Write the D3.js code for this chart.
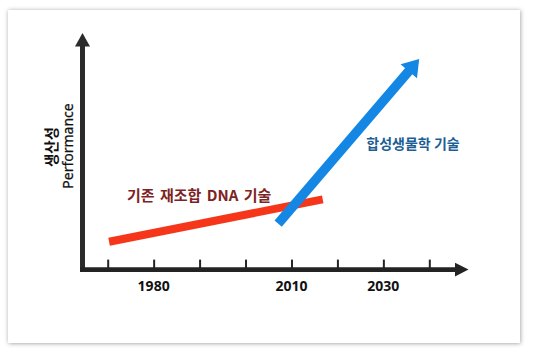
<!DOCTYPE html>
<html>
<head>
<meta charset="utf-8">
<script src="https://cdn.jsdelivr.net/npm/d3@7"></script>
<style>
  html, body { margin: 0; padding: 0; background: #ffffff; }
  svg { display: block; }
</style>
</head>
<body>
<svg id="chart" width="535" height="354"></svg>
<script>
// ---- data ----
const tickYears = [1970, 1980, 1990, 2000, 2010, 2020, 2030, 2040];
const tickLabels = ["", "1980", "", "", "2010", "", "2030", ""];
const recombinantYears = [1970.3, 2016.8];
const recombinantPerf = [11.9, 29.8];
const syntheticYears = [2007.1, 2037.8];
const syntheticPerf = [19.6, 89.0];
const seriesLabels = ["기존 재조합 DNA 기술", "합성생물학 기술"];
const yTitle = ["생산성", "Performance"];

// ---- setup ----
const svg = d3.select("#chart");
const defs = svg.append("defs");
const f = defs.append("filter").attr("id", "shadow")
  .attr("x", "-5%").attr("y", "-5%").attr("width", "110%").attr("height", "110%");
f.append("feDropShadow").attr("dx", 0.5).attr("dy", 0.5)
  .attr("stdDeviation", 2.2).attr("flood-color", "#000").attr("flood-opacity", 0.38);

svg.append("rect").attr("x", 8).attr("y", 10).attr("width", 512).attr("height", 333)
  .attr("fill", "#fff").attr("filter", "url(#shadow)");

const x = d3.scaleLinear().domain([1970, 2040]).range([107.7, 429.3]);
const y = d3.scaleLinear().domain([0, 100]).range([270, 33]);

const axisColor = "#232323";
const xAxisY = 269.6;
const yAxisX = 82.5;

// y axis line + arrow
svg.append("line").attr("x1", yAxisX).attr("x2", yAxisX)
  .attr("y1", xAxisY + 2.2).attr("y2", 45)
  .attr("stroke", "#2b2b2b").attr("stroke-width", 5);
svg.append("path")
  .attr("d", `M${yAxisX},${y(100)} L${yAxisX - 7.5},46.5 L${yAxisX + 7.5},46.5 Z`)
  .attr("fill", "#2b2b2b");

// x axis line + arrow
svg.append("line").attr("x1", yAxisX - 2.5).attr("x2", 456)
  .attr("y1", xAxisY).attr("y2", xAxisY)
  .attr("stroke", axisColor).attr("stroke-width", 4.6);
svg.append("path")
  .attr("d", `M468.5,${xAxisY} L455,${xAxisY - 6.8} L455,${xAxisY + 6.8} Z`)
  .attr("fill", axisColor);

// ticks via d3 axis
const xAxis = d3.axisTop(x).tickValues(tickYears).tickSize(10).tickFormat("");
const gx = svg.append("g").attr("transform", `translate(0,${xAxisY})`).call(xAxis);
gx.select(".domain").remove();
gx.selectAll(".tick line").attr("stroke", axisColor).attr("stroke-width", 2);

// tick labels
svg.append("g").selectAll("text").data(tickYears).join("text")
  .attr("x", d => x(d)).attr("y", 290.5)
  .attr("text-anchor", "middle")
  .attr("font-family", "'Noto Sans', sans-serif")
  .attr("font-weight", "bold").attr("font-size", 14)
  .attr("fill", "#111")
  .text((d, i) => tickLabels[i]);

// y title
svg.append("text")
  .attr("transform", `translate(56.5,147) rotate(-90)`)
  .attr("text-anchor", "middle")
  .attr("font-family", "'Noto Sans CJK KR', sans-serif")
  .attr("font-weight", "bold").attr("font-size", 14.5)
  .attr("fill", "#111").text(yTitle[0]);
svg.append("text")
  .attr("transform", `translate(72.8,146) rotate(-90)`)
  .attr("text-anchor", "middle")
  .attr("font-family", "'Noto Sans', sans-serif")
  .attr("font-size", 14)
  .attr("stroke", "#111").attr("stroke-width", 0.25)
  .attr("fill", "#111").text(yTitle[1]);

// recombinant DNA line (red)
const line = d3.line().x(d => x(d[0])).y(d => y(d[1]));
svg.append("path")
  .datum(recombinantYears.map((v, i) => [v, recombinantPerf[i]]))
  .attr("d", line)
  .attr("stroke", "#f5361a").attr("stroke-width", 8).attr("fill", "none");

// synthetic biology arrow (blue)
const p0 = [x(syntheticYears[0]), y(syntheticPerf[0])];
const p1 = [x(syntheticYears[1]), y(syntheticPerf[1])];
const dx = p1[0] - p0[0], dy = p1[1] - p0[1];
const len = Math.hypot(dx, dy);
const ux = dx / len, uy = dy / len;
const headLen = 16, headHalf = 10.8;
const base = [p1[0] - ux * headLen, p1[1] - uy * headLen];
const blue = "#1487e4";
svg.append("line")
  .attr("x1", p0[0]).attr("y1", p0[1])
  .attr("x2", base[0] + ux * 1).attr("y2", base[1] + uy * 1)
  .attr("stroke", blue).attr("stroke-width", 9.5);
svg.append("path")
  .attr("d", `M${p1[0]},${p1[1]} L${base[0] - uy * headHalf},${base[1] + ux * headHalf} L${base[0] + uy * headHalf},${base[1] - ux * headHalf} Z`)
  .attr("fill", blue);

// series labels
svg.append("text")
  .attr("x", 199.2).attr("y", 200.5)
  .attr("text-anchor", "middle")
  .attr("font-family", "'Noto Sans CJK KR', sans-serif")
  .attr("font-weight", "bold").attr("font-size", 15)
  .attr("word-spacing", 2)
  .attr("fill", "#7d2323").text(seriesLabels[0]);
svg.append("text")
  .attr("x", 413).attr("y", 149)
  .attr("text-anchor", "middle")
  .attr("font-family", "'Noto Sans CJK KR', sans-serif")
  .attr("font-weight", "bold").attr("font-size", 14)
  .attr("fill", "#1d5e96").text(seriesLabels[1]);
</script>
</body>
</html>
